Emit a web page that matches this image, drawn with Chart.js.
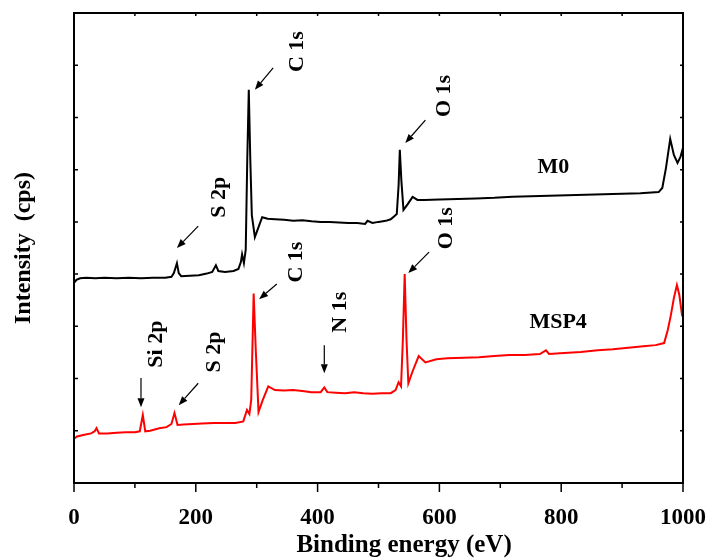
<!DOCTYPE html>
<html>
<head>
<meta charset="utf-8">
<script src="https://cdn.jsdelivr.net/npm/chart.js@4"></script>
<style>
  html, body { margin: 0; padding: 0; background: #fff; }
  #wrap { width: 710px; height: 560px; position: relative; }
</style>
</head>
<body>
<div id="wrap"><canvas id="xpsChart"></canvas></div>
<script>
// M0 survey spectrum (binding energy in eV, intensity in arbitrary offset units)
const m0Energy = [0, 4, 10, 20, 35, 50, 70, 90, 110, 130, 150, 160, 164, 169, 172, 176, 190, 205, 218, 227, 233, 237, 248, 262, 270, 274, 276, 279, 282, 284.5, 287, 289.5, 292, 297, 303, 309, 318, 330, 345, 360, 375, 390, 405, 420, 435, 450, 465, 478, 482, 490, 500, 512, 520, 526, 530, 533, 535, 537.5, 541, 548, 556, 564, 575, 600, 630, 660, 690, 720, 750, 780, 810, 840, 870, 900, 930, 960, 966, 972, 979, 985, 991, 996, 1000];
const m0Intensity = [3.83, 3.89, 3.92, 3.93, 3.92, 3.93, 3.92, 3.93, 3.92, 3.93, 3.93, 3.95, 4.02, 4.21, 4.02, 3.96, 3.97, 3.98, 4.01, 4.04, 4.17, 4.06, 4.04, 4.06, 4.10, 4.23, 4.38, 4.21, 4.47, 6.19, 7.53, 6.19, 5.13, 4.71, 4.90, 5.09, 5.06, 5.05, 5.04, 5.02, 5.03, 5.01, 5.00, 5.00, 4.99, 4.98, 4.98, 4.96, 5.02, 4.98, 5.00, 5.02, 5.05, 5.11, 5.15, 5.70, 6.38, 5.80, 5.23, 5.34, 5.48, 5.42, 5.42, 5.43, 5.44, 5.45, 5.46, 5.48, 5.49, 5.50, 5.51, 5.52, 5.53, 5.54, 5.55, 5.57, 5.65, 6.03, 6.59, 6.28, 6.13, 6.25, 6.42];

// MSP4 survey spectrum
const msp4Energy = [0, 5, 15, 28, 34, 37, 41, 55, 70, 85, 100, 108, 113, 117, 125, 140, 152, 160, 165, 170, 180, 195, 210, 230, 250, 265, 278, 284, 288, 291, 295, 298.5, 303, 310, 319, 330, 345, 360, 375, 390, 405, 411, 416, 430, 445, 460, 475, 490, 505, 520, 528, 533, 537, 540, 543, 546, 549, 556, 566, 577, 595, 613, 640, 665, 690, 715, 740, 765, 775, 780, 805, 832, 860, 885, 910, 935, 955, 969, 975, 980, 985, 990, 994, 998, 1000];
const msp4Intensity = [0.85, 0.89, 0.92, 0.95, 0.99, 1.05, 0.95, 0.95, 0.96, 0.97, 0.97, 0.99, 1.30, 0.99, 1.00, 1.05, 1.07, 1.13, 1.34, 1.11, 1.12, 1.13, 1.14, 1.15, 1.15, 1.15, 1.18, 1.40, 1.32, 1.59, 3.63, 2.54, 1.36, 1.59, 1.85, 1.78, 1.77, 1.78, 1.76, 1.74, 1.74, 1.83, 1.74, 1.73, 1.72, 1.74, 1.72, 1.71, 1.72, 1.72, 1.78, 1.93, 1.85, 2.74, 4.00, 2.74, 1.91, 2.14, 2.43, 2.31, 2.37, 2.39, 2.40, 2.41, 2.43, 2.45, 2.45, 2.47, 2.54, 2.47, 2.49, 2.51, 2.54, 2.56, 2.59, 2.62, 2.64, 2.68, 2.93, 3.21, 3.54, 3.79, 3.60, 3.25, 3.31];

const xTicks = [0, 200, 400, 600, 800, 1000];

// peak labels: text, where (energy, intensity), rotated or not
const notes = [
    { text: "C 1s", e: 366, i: 8.26, rot: true },
    { text: "S 2p", e: 238, i: 5.47, rot: true },
    { text: "O 1s", e: 608, i: 7.41, rot: true },
    { text: "M0", e: 787, i: 6.05, rot: false },
    { text: "C 1s", e: 365, i: 4.23, rot: true },
    { text: "O 1s", e: 611, i: 4.88, rot: true },
    { text: "N 1s", e: 437, i: 3.27, rot: true },
    { text: "Si 2p", e: 135, i: 2.66, rot: true },
    { text: "S 2p", e: 230, i: 2.51, rot: true },
    { text: "MSP4", e: 795, i: 3.08, rot: false }
];
// arrows pointing at the peaks: [fromE, fromI, toE, toI]
const arrows = [
    [327, 7.95, 297, 7.53],
    [204, 4.92, 169, 4.50],
    [577, 6.95, 544, 6.51],
    [333, 3.81, 304, 3.52],
    [583, 4.42, 549, 4.02],
    [411, 2.64, 411, 2.10],
    [110, 2.01, 110, 1.45],
    [204, 1.91, 172, 1.49]
];

const FONT = "'Liberation Serif', 'Times New Roman', serif";

function toPoints(xs, ys) {
    return xs.map((v, k) => ({ x: v, y: ys[k] }));
}

// frame, tick marks, x title and peak labels
const decorPlugin = {
    id: "decor",
    afterDraw(chart) {
        const ctx = chart.ctx;
        const a = chart.chartArea;
        const x = chart.scales.x;
        const y = chart.scales.y;
        ctx.save();
        ctx.strokeStyle = "#000";
        ctx.lineWidth = 2;
        ctx.strokeRect(a.left, a.top, a.right - a.left, a.bottom - a.top);

        ctx.lineWidth = 1.5;
        ctx.beginPath();
        for (let v = 0; v <= 1000; v += 100) {
            const px = x.getPixelForValue(v);
            const major = v % 200 === 0;
            ctx.moveTo(px, a.bottom);
            ctx.lineTo(px, a.bottom + (major ? 9 : 5));
            ctx.moveTo(px, a.top);
            ctx.lineTo(px, a.top + 3);
        }
        for (let v = 0; v <= 9; v++) {
            const py = y.getPixelForValue(v);
            ctx.moveTo(a.left, py);
            ctx.lineTo(a.left + 4, py);
            ctx.moveTo(a.right, py);
            ctx.lineTo(a.right - 3, py);
        }
        ctx.stroke();

        // x axis title
        ctx.fillStyle = "#000";
        ctx.font = "bold 25px " + FONT;
        ctx.textAlign = "center";
        ctx.textBaseline = "alphabetic";
        ctx.fillText("Binding energy (eV)", x.getPixelForValue(542), 552);

        // arrows
        ctx.lineWidth = 1.2;
        arrows.forEach(ar => {
            const x1 = x.getPixelForValue(ar[0]), y1 = y.getPixelForValue(ar[1]);
            const x2 = x.getPixelForValue(ar[2]), y2 = y.getPixelForValue(ar[3]);
            const ang = Math.atan2(y2 - y1, x2 - x1);
            const hl = 9, hw = 3.5;
            const bx = x2 - hl * Math.cos(ang), by = y2 - hl * Math.sin(ang);
            ctx.beginPath();
            ctx.moveTo(x1, y1);
            ctx.lineTo(bx, by);
            ctx.stroke();
            ctx.beginPath();
            ctx.moveTo(x2, y2);
            ctx.lineTo(bx - hw * Math.sin(ang), by + hw * Math.cos(ang));
            ctx.lineTo(bx + hw * Math.sin(ang), by - hw * Math.cos(ang));
            ctx.closePath();
            ctx.fill();
        });

        // labels
        ctx.font = "bold 22px " + FONT;
        ctx.textBaseline = "middle";
        notes.forEach(n => {
            ctx.save();
            ctx.translate(x.getPixelForValue(n.e), y.getPixelForValue(n.i));
            if (n.rot) ctx.rotate(-Math.PI / 2);
            ctx.fillText(n.text, 0, 0);
            ctx.restore();
        });
        ctx.restore();
    }
};

const ctx = document.getElementById("xpsChart").getContext("2d");

new Chart(ctx, {
    type: "scatter",
    data: {
        datasets: [{
            label: "M0",
            data: toPoints(m0Energy, m0Intensity),
            showLine: true,
            borderColor: "#000000",
            borderWidth: 2,
            pointRadius: 0,
            tension: 0
        }, {
            label: "MSP4",
            data: toPoints(msp4Energy, msp4Intensity),
            showLine: true,
            borderColor: "#ff0000",
            borderWidth: 2,
            pointRadius: 0,
            tension: 0
        }]
    },
    options: {
        responsive: true,
        maintainAspectRatio: false,
        animation: false,
        layout: {
            padding: { top: 13, right: 27, left: 0, bottom: 0 }
        },
        plugins: {
            legend: { display: false },
            tooltip: { enabled: false }
        },
        scales: {
            x: {
                type: "linear",
                min: 0,
                max: 1000,
                afterBuildTicks: scale => {
                    scale.ticks = xTicks.map(v => ({ value: v }));
                },
                afterFit: scale => {
                    scale.height = 77;
                    scale.paddingLeft = 0;
                    scale.paddingRight = 0;
                },
                ticks: {
                    color: "#000",
                    padding: 13,
                    maxRotation: 0,
                    callback: v => String(v),
                    font: { family: FONT, size: 23, weight: "bold" }
                },
                grid: { display: false },
                border: { display: false }
            },
            y: {
                min: 0,
                max: 9,
                afterFit: scale => { scale.width = 74; },
                ticks: { display: false },
                grid: { display: false },
                border: { display: false },
                title: {
                    display: true,
                    text: "Intensity  (cps)",
                    color: "#000",
                    padding: { top: 9, bottom: 0 },
                    font: { family: FONT, size: 24, weight: "bold" }
                }
            }
        }
    },
    plugins: [decorPlugin]
});
</script>
</body>
</html>
